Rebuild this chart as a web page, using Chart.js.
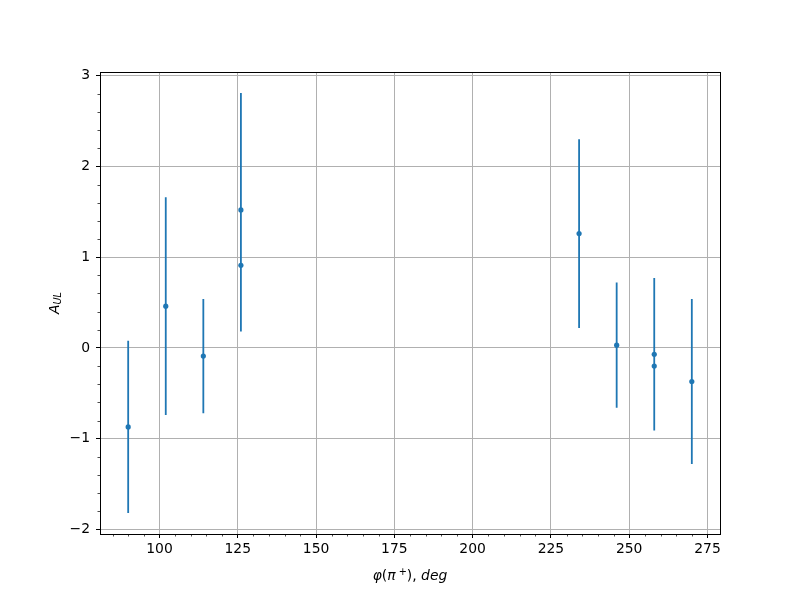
<!DOCTYPE html>
<html>
<head>
<meta charset="utf-8">
<script src="https://cdn.jsdelivr.net/npm/chart.js@4/dist/chart.umd.min.js"></script>
<style>
    body { margin: 0; background: #fff; }
    #wrap { width: 800px; height: 600px; }
</style>
</head>
<body>
<div id="wrap"><canvas id="asymChart" width="800" height="600"></canvas></div>
<script>
// Data
const phi  = [90, 102, 114, 126, 126, 234, 246, 258, 258, 270];
const aUL  = [-0.87, 0.46, -0.09, 1.52, 0.91, 1.26, 0.03, -0.07, -0.20, -0.37];
const aErr = [0.95, 1.20, 0.63, 1.29, 0.73, 1.04, 0.69, 0.84, 0.71, 0.91];

const xTicks = [100, 125, 150, 175, 200, 225, 250, 275];
const yTicks = [-2, -1, 0, 1, 2, 3];

const BLUE = '#1f77b4';
const FONT = 'DejaVu Sans';
const FS = 13.9;

// Error bars as one line dataset, broken by null points
function buildErrorBars() {
    const pts = [];
    phi.forEach((x, i) => {
        pts.push({ x: x, y: aUL[i] - aErr[i] });
        pts.push({ x: x, y: aUL[i] + aErr[i] });
        pts.push({ x: x, y: null });
    });
    return pts;
}

function fmtTick(v) {
    return v < 0 ? '\u2212' + Math.abs(v) : String(v);
}

// Frame, minor ticks and axis titles
const decorPlugin = {
    id: 'decor',
    afterDraw(chart) {
        const ctx = chart.ctx;
        const a = chart.chartArea;
        const xs = chart.scales.x, ys = chart.scales.y;
        ctx.save();

        // minor ticks
        ctx.strokeStyle = '#000';
        ctx.lineWidth = 0.7;
        ctx.beginPath();
        for (let v = 85; v <= 275; v += 5) {
            if (v % 25 === 0) continue;
            const px = Math.round(xs.getPixelForValue(v)) + 0.5;
            ctx.moveTo(px, a.bottom);
            ctx.lineTo(px, a.bottom + 2.5);
        }
        for (let k = -10; k <= 15; k++) {
            if (k % 5 === 0) continue;
            const py = Math.round(ys.getPixelForValue(k / 5)) + 0.5;
            ctx.moveTo(a.left, py);
            ctx.lineTo(a.left - 2.5, py);
        }
        ctx.stroke();

        // full box
        ctx.lineWidth = 1;
        ctx.strokeRect(Math.round(a.left) + 0.5, Math.round(a.top) + 0.5,
            Math.round(a.right - a.left), Math.round(a.bottom - a.top));

        // x title: φ(π⁺), deg
        ctx.fillStyle = '#000';
        ctx.textBaseline = 'alphabetic';
        const runs = [
            { t: 'φ', f: 'italic ' + FS + 'px ' + FONT, dy: 0 },
            { t: '(', f: FS + 'px ' + FONT, dy: 0 },
            { t: 'π', f: 'italic ' + FS + 'px ' + FONT, dy: 0 },
            { t: ' +', f: (FS * 0.7) + 'px ' + FONT, dy: -5 },
            { t: '),', f: FS + 'px ' + FONT, dy: 0 },
            { t: ' deg', f: 'italic ' + FS + 'px ' + FONT, dy: 0 }
        ];
        let total = 0;
        runs.forEach(r => { ctx.font = r.f; r.w = ctx.measureText(r.t).width; total += r.w; });
        let cx = (a.left + a.right) / 2 - total / 2;
        runs.forEach(r => {
            ctx.font = r.f;
            ctx.fillText(r.t, cx, 580 + r.dy);
            cx += r.w;
        });

        // y title: A_UL (rotated)
        ctx.translate(59, (a.top + a.bottom) / 2);
        ctx.rotate(-Math.PI / 2);
        ctx.font = 'italic ' + FS + 'px ' + FONT;
        const wA = ctx.measureText('A').width;
        ctx.font = 'italic ' + (FS * 0.7) + 'px ' + FONT;
        const wUL = ctx.measureText('UL').width;
        const sx = -(wA + wUL) / 2;
        ctx.font = 'italic ' + FS + 'px ' + FONT;
        ctx.fillText('A', sx, 0);
        ctx.font = 'italic ' + (FS * 0.7) + 'px ' + FONT;
        ctx.fillText('UL', sx + wA, 1.5);
        ctx.restore();
    }
};

function createChart() {
    const ctx = document.getElementById('asymChart').getContext('2d');
    new Chart(ctx, {
        type: 'scatter',
        data: {
            datasets: [
                {
                    label: 'errors',
                    data: buildErrorBars(),
                    showLine: true,
                    spanGaps: false,
                    borderColor: BLUE,
                    borderWidth: 1.8,
                    pointRadius: 0,
                    order: 2
                },
                {
                    label: 'A_UL',
                    data: phi.map((x, i) => ({ x: x, y: aUL[i] })),
                    backgroundColor: BLUE,
                    borderColor: BLUE,
                    pointRadius: 2.6,
                    borderWidth: 0,
                    order: 1
                }
            ]
        },
        options: {
            responsive: false,
            animation: false,
            events: [],
            layout: { padding: { left: 0, right: 80, top: 72, bottom: 0 } },
            plugins: {
                legend: { display: false },
                tooltip: { enabled: false }
            },
            scales: {
                x: {
                    type: 'linear',
                    min: 81,
                    max: 279,
                    afterFit: s => { s.height = 66; },
                    afterBuildTicks: s => { s.ticks = xTicks.map(v => ({ value: v })); },
                    grid: { color: '#b0b0b0', lineWidth: 1, tickColor: '#000', tickLength: 4, tickWidth: 1 },
                    border: { display: false },
                    ticks: {
                        autoSkip: false,
                        maxRotation: 0,
                        padding: 3,
                        color: '#000',
                        font: { family: FONT, size: FS },
                        callback: v => fmtTick(v)
                    }
                },
                y: {
                    type: 'linear',
                    min: -2.05,
                    max: 3.04,
                    afterFit: s => { s.width = 100; },
                    afterBuildTicks: s => { s.ticks = yTicks.map(v => ({ value: v })); },
                    grid: { color: '#b0b0b0', lineWidth: 1, tickColor: '#000', tickLength: 4, tickWidth: 1 },
                    border: { display: false },
                    ticks: {
                        autoSkip: false,
                        padding: 6,
                        color: '#000',
                        font: { family: FONT, size: FS },
                        callback: v => fmtTick(v)
                    }
                }
            }
        },
        plugins: [decorPlugin]
    });
}

document.addEventListener('DOMContentLoaded', createChart);
</script>
</body>
</html>
